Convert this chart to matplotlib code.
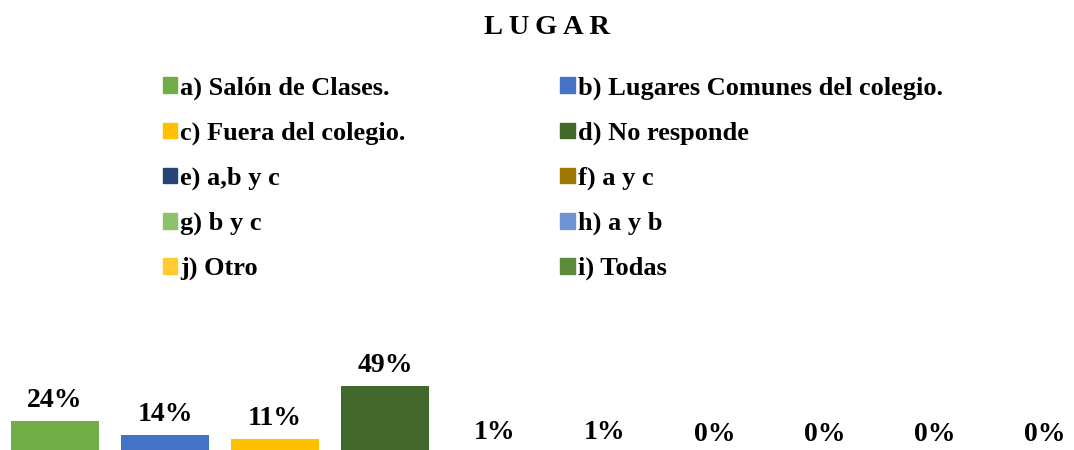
import matplotlib
matplotlib.use('Agg')
import matplotlib.pyplot as plt
from matplotlib.patches import Patch

categorias = ['a) Salón de Clases.', 'b) Lugares Comunes del colegio.',
              'c) Fuera del colegio.', 'd) No responde', 'e) a,b y c',
              'f) a y c', 'g) b y c', 'h) a y b', 'j) Otro', 'i) Todas']
porcentajes = [24, 14, 11, 49, 1, 1, 0, 0, 0, 0]
colores = ['#70AD47', '#4472C4', '#FFC000', '#43682B', '#264478',
           '#9E7700', '#8DC26A', '#6F93D3', '#FFCB30', '#5B8B3A']

plt.rcParams['font.family'] = ['Liberation Serif', 'DejaVu Serif']
plt.rcParams['font.weight'] = 'bold'

W, H = 1074, 450
fig = plt.figure(figsize=(W / 100, H / 100), dpi=100)

# eje pegado al borde inferior; la base de las barras queda un poco por debajo
base = -5
alto = 100
ax = fig.add_axes([0, base / H, 1, alto / H])
x = list(range(len(porcentajes)))
barras = ax.bar(x, porcentajes, width=0.8, color=colores)
ax.set_xlim(-0.5, -0.5 + W / 110)
ax.set_ylim(0, alto / 1.41)
for xi, v in zip(x, porcentajes):
    ax.annotate(f'{v}%', (xi, v), xytext=(0, 6), textcoords='offset points',
                ha='center', va='bottom', fontsize=20, fontweight='bold')
ax.axis('off')

# leyenda en dos columnas, rellena por filas
orden = [0, 2, 4, 6, 8, 1, 3, 5, 7, 9]
handles = [Patch(color=colores[i]) for i in orden]
labels = [categorias[i] for i in orden]
fig.legend(handles, labels, ncol=2, loc='upper left',
           bbox_to_anchor=(139 / W, 1 - 53 / H), frameon=False,
           prop={'size': 19, 'weight': 'bold'},
           handlelength=0.55, handleheight=0.55, handletextpad=0.12,
           labelspacing=0.82, columnspacing=5.85)

fig.text(547 / W, 1 - 28 / H, 'L\u2009U\u2009G\u2009A\u2009R', ha='center',
         va='center', fontsize=20.5, fontweight='bold')

fig.savefig('out.png', dpi=100)
